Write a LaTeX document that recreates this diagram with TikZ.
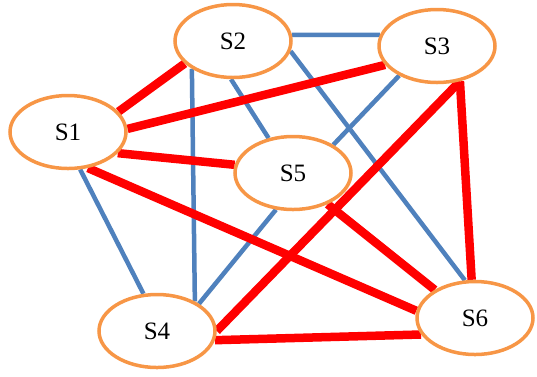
\documentclass[tikz,border=0pt]{standalone}
\usepackage{fontspec}
\setmainfont{Liberation Serif}
\usetikzlibrary{shapes.geometric,backgrounds}
\definecolor{nodeorange}{RGB}{247,150,70}
\definecolor{linkblue}{RGB}{79,129,189}
\definecolor{linkred}{RGB}{255,0,0}
\begin{document}
\begin{tikzpicture}[x=1pt,y=-1pt,
  station/.style={ellipse, draw=nodeorange, line width=3.5pt, fill=white,
    minimum width=116pt, minimum height=73pt, inner sep=0pt,
    font=\fontsize{25}{29}\selectfont},
  shade line/.style={preaction={draw=black!25, opacity=0.5,
    transform canvas={xshift=1pt,yshift=-2pt}}},
  weak/.style={draw=linkblue, line width=4.5pt, shade line},
  strong/.style={draw=linkred, line width=8.5pt, shade line}]
\useasboundingbox (0,0) rectangle (537,376);

% stations
\node[station] (s1) at (68,132) {S1};
\node[station] (s2) at (233,41) {S2};
\node[station] (s3) at (437,46) {S3};
\node[station] (s5) at (293,173) {S5};
\node[station] (s4) at (157,331) {S4};
\node[station] (s6) at (475,318) {S6};

\begin{scope}[on background layer]
  % weak links
  \draw[weak] (s2.6)   -- (s3.169);
  \draw[weak] (s2.214) -- (s4.38);
  \draw[weak] (s2.267) -- (s5.125);
  \draw[weak] (s2.350) -- (s6.105);
  \draw[weak] (s1.288) -- (s4.110);
  \draw[weak] (s3.218) -- (s5.35);
  \draw[weak] (s5.245) -- (s4.33);
  % strong links
  \draw[strong] (s1.22)  -- (s2.205);
  \draw[strong] (s1.3)   -- (s3.200);
  \draw[strong] (s1.337) -- (s5.172);
  \draw[strong] (s1.299) -- (s6.173);
  \draw[strong] (s5.318) -- (s6.145);
  \draw[strong] (s4.0)   -- (s3.303);
  \draw[strong] (s3.303) -- (s6.95);
  \draw[strong] (s4.351) -- (s6.197);
\end{scope}
\end{tikzpicture}
\end{document}
